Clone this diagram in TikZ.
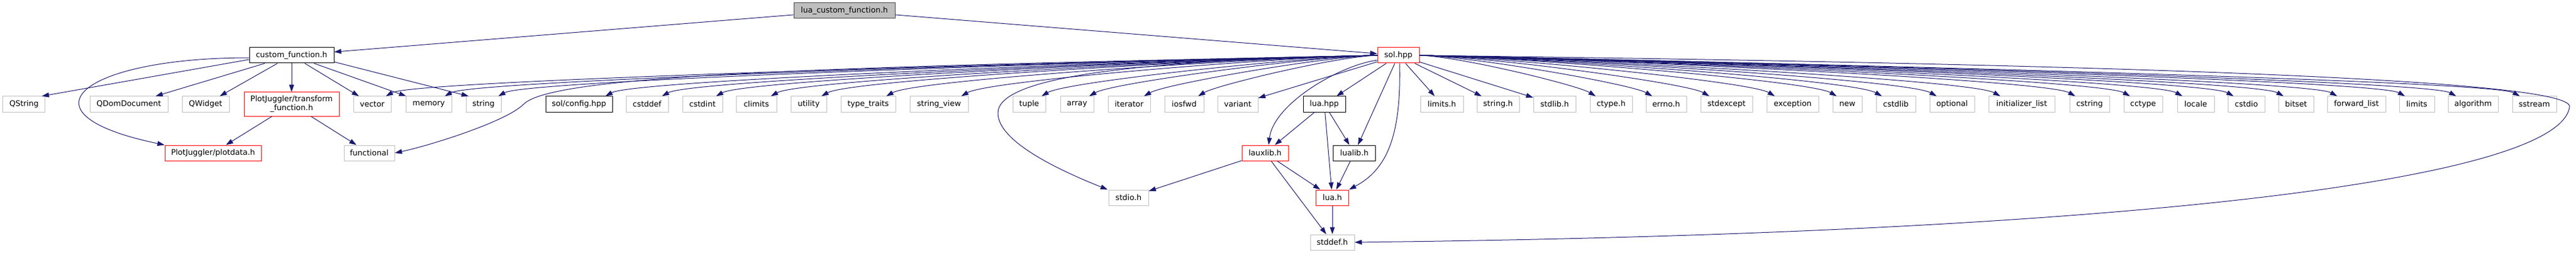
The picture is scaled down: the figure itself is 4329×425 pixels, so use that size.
\documentclass[tikz,border=0pt]{standalone}
\usepackage{fontspec}
\setmainfont{DejaVu Sans}
\usetikzlibrary{arrows.meta}
\definecolor{edgeblue}{HTML}{191970}
\definecolor{boxgray}{HTML}{BFBFBF}
\definecolor{boxred}{HTML}{FF0000}
\newcommand{\rowh}{26pt}
\tikzset{
  box/.style={draw, line width=1pt, fill=white, minimum height=\rowh, inner sep=0pt, font=\fontsize{13}{15}\selectfont},
  ext/.style={box, draw=boxgray},
  undoc/.style={box, draw=boxred},
  doc/.style={box, draw=black},
  root/.style={box, draw=black!75, fill=boxgray},
  dep/.style={draw=edgeblue, line width=1pt, -{Triangle[length=12pt,width=8pt]}}
}

\begin{document}
\begin{tikzpicture}[x=1pt,y=-1pt]
\useasboundingbox (0,0) rectangle (4329,425);
% top rows
\node[root, minimum width=170pt] (lcf) at (1419,18) {lua\_custom\_function.h};
\node[doc, minimum width=142pt] (cf) at (490,93) {custom\_function.h};
\node[undoc, minimum width=70pt] (sol) at (2350,93) {sol.hpp};
% row three
\node[ext, minimum width=71pt] (qstring) at (40.3,175) {QString};
\node[ext, minimum width=131pt] (qdom) at (216.5,175) {QDomDocument};
\node[ext, minimum width=79pt] (qwidget) at (345.5,175) {QWidget};
\node[undoc, minimum width=160pt, minimum height=40pt, align=center] (transform) at (490,175) {PlotJuggler/transform\\\_function.h};
\node[ext, minimum width=63pt] (vector) at (625.5,175) {vector};
\node[ext, minimum width=77pt] (memory) at (720.5,175) {memory};
\node[ext, minimum width=59pt] (string) at (812.5,175) {string};
\node[doc, minimum width=112pt] (solconfig) at (973,175) {sol/config.hpp};
\node[ext, minimum width=71pt] (cstddef) at (1087.5,175) {cstddef};
\node[ext, minimum width=67pt] (cstdint) at (1180.5,175) {cstdint};
\node[ext, minimum width=68pt] (climits) at (1271,175) {climits};
\node[ext, minimum width=60pt] (utility) at (1359,175) {utility};
\node[ext, minimum width=92pt] (typetraits) at (1459,175) {type\_traits};
\node[ext, minimum width=98pt] (stringview) at (1578,175) {string\_view};
\node[ext, minimum width=55pt] (tuple) at (1729.5,175) {tuple};
\node[ext, minimum width=56pt] (array) at (1810,175) {array};
\node[ext, minimum width=71pt] (iterator) at (1897.5,175) {iterator};
\node[ext, minimum width=66pt] (iosfwd) at (1990,175) {iosfwd};
\node[ext, minimum width=68pt] (variant) at (2080,175) {variant};
\node[doc, minimum width=71pt] (luahpp) at (2225.5,175) {lua.hpp};
\node[ext, minimum width=72pt] (limitsh) at (2423,175) {limits.h};
\node[ext, minimum width=71pt] (stringh) at (2517.5,175) {string.h};
\node[ext, minimum width=71pt] (stdlibh) at (2612.5,175) {stdlib.h};
\node[ext, minimum width=71pt] (ctypeh) at (2707.5,175) {ctype.h};
\node[ext, minimum width=68pt] (errnoh) at (2800,175) {errno.h};
\node[ext, minimum width=87pt] (stdexcept) at (2901.5,175) {stdexcept};
\node[ext, minimum width=87pt] (exception) at (3012.5,175) {exception};
\node[ext, minimum width=49pt] (new) at (3104.5,175) {new};
\node[ext, minimum width=66pt] (cstdlib) at (3186,175) {cstdlib};
\node[ext, minimum width=75pt] (optional) at (3280.5,175) {optional};
\node[ext, minimum width=111pt] (initlist) at (3397.5,175) {initializer\_list};
\node[ext, minimum width=67pt] (cstring) at (3511.5,175) {cstring};
\node[ext, minimum width=65pt] (cctype) at (3601.5,175) {cctype};
\node[ext, minimum width=62pt] (locale) at (3690,175) {locale};
\node[ext, minimum width=62pt] (cstdio) at (3775,175) {cstdio};
\node[ext, minimum width=59pt] (bitset) at (3858.5,175) {bitset};
\node[ext, minimum width=98pt] (forwardlist) at (3960,175) {forward\_list};
\node[ext, minimum width=59pt] (limits) at (4061.5,175) {limits};
\node[ext, minimum width=84pt] (algorithm) at (4156,175) {algorithm};
\node[ext, minimum width=74pt] (sstream) at (4259,175) {sstream};
% lower rows
\node[undoc, minimum width=162pt] (plotdata) at (358,257) {PlotJuggler/plotdata.h};
\node[ext, minimum width=85pt] (functional) at (620.5,257) {functional};
\node[undoc, minimum width=78pt] (lauxlib) at (2126,257) {lauxlib.h};
\node[doc, minimum width=71pt] (lualib) at (2276,257) {lualib.h};
\node[ext, minimum width=67pt] (stdioh) at (1896.5,332) {stdio.h};
\node[undoc, minimum width=55pt] (luah) at (2239,332) {lua.h};
\node[ext, minimum width=74pt] (stddefh) at (2239,407) {stddef.h};
% lua_custom_function.h
\draw[dep] (lcf) -- (cf);
\draw[dep] (lcf) -- (sol);
% custom_function.h
\draw[dep] ([yshift=-7pt]cf.west) -- ([xshift=-6pt]qstring.north east);
\draw[dep] (cf) -- (qdom);
\draw[dep] (cf) -- (qwidget);
\draw[dep] (cf) -- (transform);
\draw[dep] (cf) -- (vector);
\draw[dep] (cf) -- (memory);
\draw[dep] ([yshift=-11pt]cf.east) -- ([xshift=5pt]string.north west);
\draw[dep] ([yshift=-4pt]cf.west) .. controls (140,97) and (20,190) .. (plotdata.north west);
% transform_function.h
\draw[dep] (transform) -- (plotdata);
\draw[dep] (transform) -- (functional);
% sol.hpp, left side
\draw[dep] (sol.west) .. controls +(-392,8) and +(50,-28) .. ([xshift=-9pt]vector.north east);
\draw[dep] (sol.west) .. controls +(-368,7) and +(50,-28) .. ([xshift=-12pt]memory.north east);
\draw[dep] (sol.west) .. controls +(-347,7) and +(50,-28) .. ([xshift=-5pt]string.north east);
\draw[dep] (sol.west) .. controls +(-305,6) and +(50,-28) .. ([xshift=-12pt]solconfig.north east);
\draw[dep] (sol.west) .. controls +(-283,6) and +(50,-28) .. ([xshift=-11pt]cstddef.north east);
\draw[dep] (sol.west) .. controls +(-261,5) and +(50,-28) .. ([xshift=-11pt]cstdint.north east);
\draw[dep] (sol.west) .. controls +(-240,5) and +(50,-28) .. ([xshift=-10pt]climits.north east);
\draw[dep] (sol.west) .. controls +(-220,4) and +(50,-28) .. ([xshift=-9pt]utility.north east);
\draw[dep] (sol.west) .. controls +(-194,4) and +(50,-28) .. ([xshift=-16pt]typetraits.north east);
\draw[dep] (sol.west) .. controls +(-165,3) and +(45,-26) .. ([xshift=-12pt]stringview.north east);
\draw[dep] (sol.west) .. controls +(-133,3) and +(40,-24) .. ([xshift=-7pt]tuple.north east);
\draw[dep] (sol.west) .. controls +(-114,2) and +(38,-22) .. ([xshift=-8pt]array.north east);
\draw[dep] (sol.west) .. controls +(-92,2) and +(35,-20) .. ([xshift=-11pt]iterator.north east);
\draw[dep] (sol.west) .. controls +(-71,2) and +(30,-18) .. ([xshift=-10pt]iosfwd.north east);
\draw[dep] (sol) -- (variant);
\draw[dep] (sol) -- (luahpp);
\draw[dep] (sol.west) .. controls (1400,112) and (930,125) .. (880,175) .. controls (850,205) and (720,245) .. (functional.east);
\draw[dep] (sol.west) .. controls (1900,102) and (1677,130) .. (1677,190) .. controls (1677,240) and (1790,290) .. ([xshift=-1pt]stdioh.north west);
\draw[dep] ([yshift=-8pt]sol.west) .. controls (2250,110) and (2140,175) .. ([xshift=6pt]lauxlib.north);
\draw[dep] (sol) -- (lualib);
\draw[dep] ([xshift=2pt]sol.south) .. controls (2355,230) and (2330,285) .. (luah.north east);
% sol.hpp, right side
\draw[dep] (sol) -- (limitsh);
\draw[dep] (sol) -- (stringh);
\draw[dep] (sol) -- (stdlibh);
\draw[dep] (sol.east) .. controls +(70,2) and +(-30,-18) .. ([xshift=10pt]ctypeh.north west);
\draw[dep] (sol.east) .. controls +(92,2) and +(-35,-20) .. ([xshift=11pt]errnoh.north west);
\draw[dep] (sol.east) .. controls +(115,2) and +(-38,-22) .. ([xshift=15pt]stdexcept.north west);
\draw[dep] (sol.east) .. controls +(140,3) and +(-40,-24) .. ([xshift=14pt]exception.north west);
\draw[dep] (sol.east) .. controls +(165,3) and +(-45,-26) .. ([xshift=7pt]new.north west);
\draw[dep] (sol.east) .. controls +(183,4) and +(-50,-28) .. ([xshift=10pt]cstdlib.north west);
\draw[dep] (sol.east) .. controls +(204,4) and +(-50,-28) .. ([xshift=12pt]optional.north west);
\draw[dep] (sol.east) .. controls +(230,5) and +(-50,-28) .. ([xshift=20pt]initlist.north west);
\draw[dep] (sol.east) .. controls +(259,5) and +(-50,-28) .. ([xshift=10pt]cstring.north west);
\draw[dep] (sol.east) .. controls +(281,6) and +(-50,-28) .. ([xshift=11pt]cctype.north west);
\draw[dep] (sol.east) .. controls +(301,6) and +(-50,-28) .. ([xshift=9pt]locale.north west);
\draw[dep] (sol.east) .. controls +(322,6) and +(-50,-28) .. ([xshift=10pt]cstdio.north west);
\draw[dep] (sol.east) .. controls +(341,7) and +(-50,-28) .. ([xshift=9pt]bitset.north west);
\draw[dep] (sol.east) .. controls +(363,7) and +(-50,-28) .. ([xshift=17pt]forwardlist.north west);
\draw[dep] (sol.east) .. controls +(389,8) and +(-50,-28) .. ([xshift=10pt]limits.north west);
\draw[dep] (sol.east) .. controls +(410,8) and +(-50,-28) .. ([xshift=14pt]algorithm.north west);
\draw[dep] (sol.east) .. controls +(435,9) and +(-50,-28) .. ([xshift=13pt]sstream.north west);
\draw[dep] (sol.east) .. controls (3600,108) and (4330,135) .. (4318,180) .. controls (4300,300) and (3600,392) .. (stddefh.east);
% lua.hpp and below
\draw[dep] (luahpp) -- (lauxlib);
\draw[dep] (luahpp) -- (lualib);
\draw[dep] (luahpp) -- (luah);
\draw[dep] (lauxlib) -- (stdioh);
\draw[dep] (lauxlib) -- (luah);
\draw[dep] (lauxlib) -- (stddefh);
\draw[dep] (lualib) -- (luah);
\draw[dep] (luah) -- (stddefh);
\end{tikzpicture}
\end{document}
